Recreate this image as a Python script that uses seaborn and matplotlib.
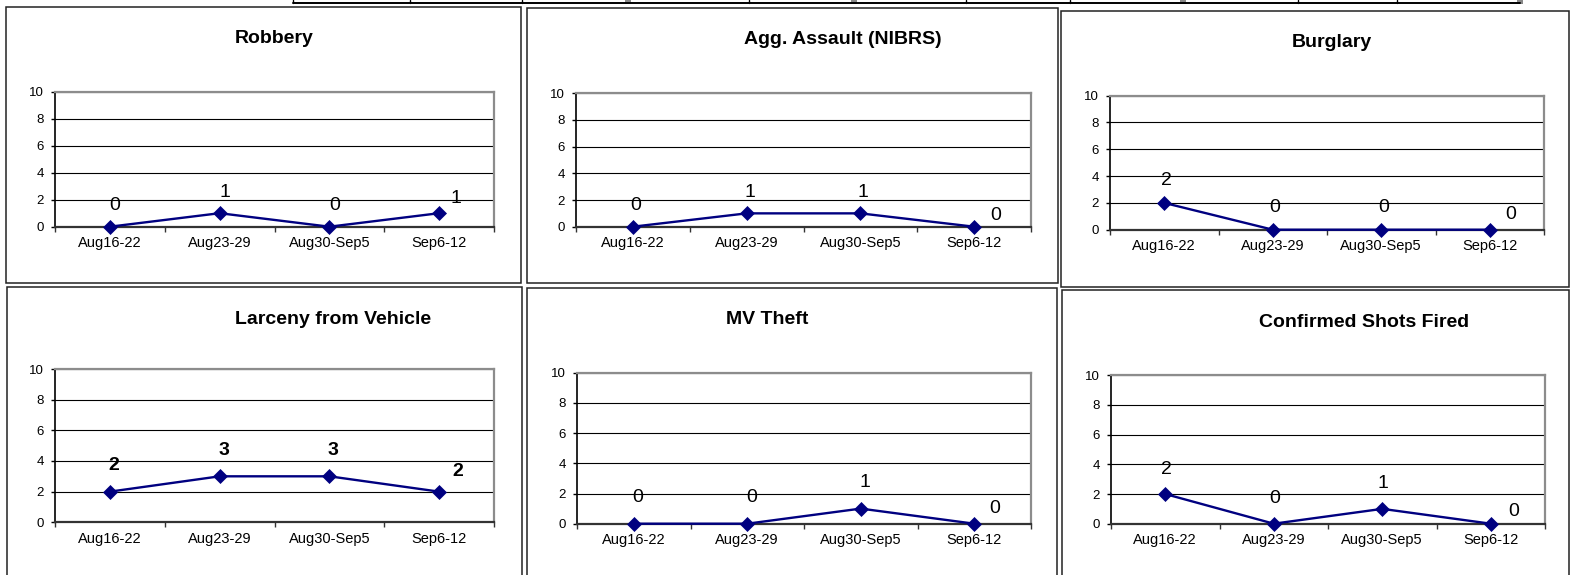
import matplotlib
matplotlib.use("Agg")
import matplotlib.pyplot as plt
import seaborn as sns
from matplotlib.lines import Line2D
from matplotlib.patches import Rectangle
from matplotlib.ticker import FixedLocator

# ---------------- data ----------------
weeks = ["Aug16-22", "Aug23-29", "Aug30-Sep5", "Sep6-12"]
robbery = [0, 1, 0, 1]
agg_assault = [0, 1, 1, 0]
burglary = [2, 0, 0, 0]
larceny_from_vehicle = [2, 3, 3, 2]
mv_theft = [0, 0, 1, 0]
shots_fired = [2, 0, 1, 0]
titles = ["Robbery", "Agg. Assault (NIBRS)", "Burglary",
          "Larceny from Vehicle", "MV Theft", "Confirmed Shots Fired"]
series = [robbery, agg_assault, burglary, larceny_from_vehicle, mv_theft, shots_fired]
y_ticks = [0, 2, 4, 6, 8, 10]

# ---------------- style / layout (pixels) ----------------
sns.set_theme(style="white")
plt.rcParams['font.family'] = ['Liberation Sans', 'DejaVu Sans']

W, H = 1577, 575
PT = 100 / 72.0  # px per point

# axes rect (left, top, right, bottom) in px
axes_px = [(55, 91.7, 494, 226.7), (576, 93.3, 1031, 226.7), (1110, 95.7, 1544, 229.7),
           (55, 369, 494, 522.3), (577, 372.7, 1031, 523.7), (1111, 375.3, 1545, 523.7)]
title_px = [(274, 38.8), (843, 39.8), (1332, 42.2), (333, 319.8), (767, 319.8), (1364, 322.5)]
box_px = [(6, 6.7, 521, 283), (527, 8.3, 1058, 283), (1061, 10.7, 1569, 287),
          (7, 287, 522, 585), (527, 287.5, 1057, 585), (1062, 290, 1569, 585)]
# label offsets in px: (dx, dy) for normal points and for the last point
label_off = [((5, -21), (17, -15)), ((3, -21), (22, -11)), ((2, -22), (21, -15)),
             ((4, -26), (19, -20)), ((4, -26), (20, -15)), ((1, -25), (23, -12))]
bold_labels = [False, False, False, True, False, False]

fig = plt.figure(figsize=(W / 100, H / 100), dpi=100)
fig.patch.set_facecolor('white')


def fx(px):
    return px / W


def fy(py):
    return 1 - py / H


# top strip of table lines
strip_y = fy(2.5)
fig.add_artist(Line2D([fx(293), fx(1520)], [strip_y, strip_y], color='black', lw=1.4))
for xd, gray in [(293, False), (410, False), (522, False), (628, True), (749, False),
                 (854, True), (966, False), (1070, False), (1183, True), (1298, False),
                 (1397, False), (1520, True)]:
    if gray:
        fig.add_artist(Rectangle((fx(xd - 3), fy(4)), fx(6), 4 / H, color='#888888', lw=0))
    else:
        fig.add_artist(Line2D([fx(xd), fx(xd)], [fy(0), fy(3)], color='black', lw=1))

navy = '#000080'

for k in range(6):
    l, t, r, b = axes_px[k]
    ax = fig.add_axes([fx(l), fy(b), (r - l) / W, (b - t) / H])
    # outer box
    bl, bt, br, bb = box_px[k]
    fig.add_artist(Rectangle((fx(bl), fy(bb)), (br - bl) / W, (bb - bt) / H,
                             fill=False, edgecolor='#222222', lw=1.1))
    vals = series[k]
    sns.lineplot(x=weeks, y=vals, ax=ax, color=navy, marker='D', markersize=7,
                 markeredgecolor=navy, markeredgewidth=0.5, linewidth=1.7,
                 sort=False, zorder=5, clip_on=False)
    ax.set_xlim(-0.5, 3.5)
    ax.set_ylim(0, 10)
    ax.set_yticks(y_ticks)
    ax.set_xticks(range(len(weeks)))
    ax.set_xticklabels(weeks)
    ax.xaxis.set_minor_locator(FixedLocator([-0.5, 0.5, 1.5, 2.5, 3.5]))
    ax.set_xlabel('')
    ax.set_ylabel('')
    ax.grid(False)
    ax.yaxis.grid(True, color='black', lw=0.8)
    ax.set_axisbelow(True)
    ax.set_facecolor('white')
    for side in ['top', 'right']:
        ax.spines[side].set_color('#8c8c8c')
        ax.spines[side].set_linewidth(1.6)
        ax.spines[side].set_visible(True)
    ax.spines['left'].set_color('black')
    ax.spines['left'].set_linewidth(1.2)
    ax.spines['bottom'].set_color('#333333')
    ax.spines['bottom'].set_linewidth(1.6)
    ax.spines['left'].set_visible(True)
    ax.spines['bottom'].set_visible(True)
    ax.tick_params(axis='y', which='major', left=True, length=3, width=1,
                   color='black', labelsize=9.5, pad=5, labelcolor='black')
    ax.tick_params(axis='x', which='major', bottom=True, length=0, labelsize=10.5,
                   pad=7, labelcolor='black')
    ax.tick_params(axis='x', which='minor', bottom=True, length=3.5, width=1,
                   color='#333333')
    # data labels
    (ndx, ndy), (ldx, ldy) = label_off[k]
    for i, v in enumerate(vals):
        dx, dy = (ldx, ldy) if i == len(vals) - 1 else (ndx, ndy)
        ax.annotate(str(v), (i, v), xytext=(dx / PT, -dy / PT),
                    textcoords='offset points', ha='center', va='center',
                    fontsize=14, color='black',
                    fontweight='bold' if bold_labels[k] else 'normal',
                    annotation_clip=False, zorder=6)
    tx, ty = title_px[k]
    fig.text(fx(tx), fy(ty), titles[k], ha='center', va='center',
             fontsize=14, fontweight='bold', color='black')

fig.savefig('out.png', dpi=100, facecolor='white')
